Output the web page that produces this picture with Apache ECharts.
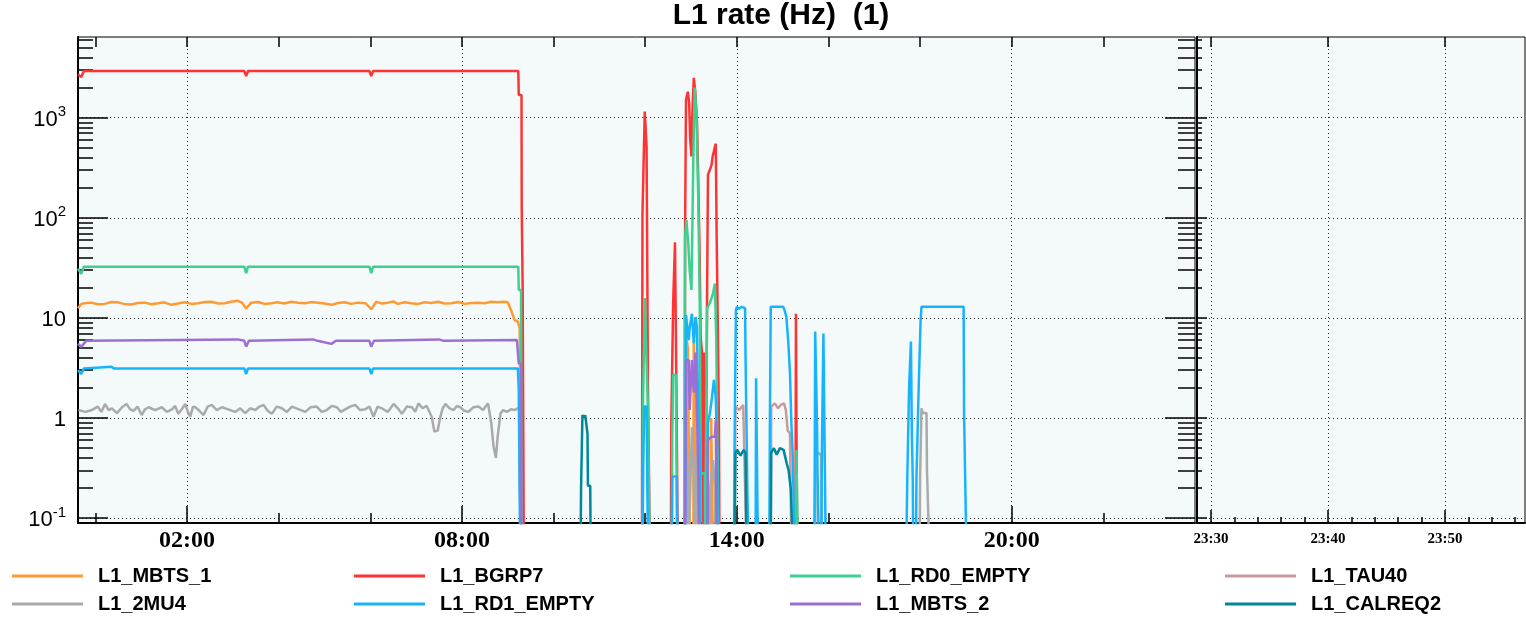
<!DOCTYPE html>
<html>
<head>
<meta charset="utf-8">
<script src="https://cdn.jsdelivr.net/npm/echarts@6/dist/echarts.min.js"></script>
<style>
  html, body { margin: 0; padding: 0; background: #fff; }
  #chart { width: 1526px; height: 617px; }
</style>
</head>
<body>
<div id="chart"></div>
<script>
// time in hours (main panel), rate in Hz; 0.05 = off scale (rate dropped to zero)
var mbts1 = [[-0.38,12.5],[-0.31,13.8],[-0.2,14.1],[-0.09,14.2],[0.05,13.7],[0.2,13.8],[0.35,14.4],[0.49,14.3],[0.62,13.8],[0.78,13.6],[0.92,14.1],[1.08,14.2],[1.22,13.7],[1.37,14.0],[1.5,14.3],[1.66,13.5],[1.8,13.9],[1.95,14.3],[2.1,13.8],[2.24,14.0],[2.4,14.4],[2.53,14.5],[2.68,13.9],[2.82,14.0],[2.96,14.5],[3.11,14.8],[3.2,14.2],[3.29,12.4],[3.4,14.2],[3.55,14.4],[3.69,13.8],[3.84,14.0],[3.98,14.3],[4.12,13.9],[4.28,14.5],[4.42,14.2],[4.57,14.0],[4.72,14.4],[4.86,14.2],[5.0,13.9],[5.15,13.5],[5.3,14.1],[5.44,14.3],[5.58,13.8],[5.73,14.2],[5.9,14.0],[6.02,12.2],[6.13,14.5],[6.26,13.9],[6.39,14.2],[6.5,14.6],[6.6,13.8],[6.75,14.3],[6.89,14.0],[7.04,13.8],[7.19,14.3],[7.33,14.1],[7.48,14.5],[7.62,13.9],[7.77,14.0],[7.92,14.4],[8.06,13.8],[8.2,14.1],[8.35,14.2],[8.5,14.0],[8.64,14.5],[8.78,14.3],[8.93,14.5],[9.0,14.3],[9.07,12.0],[9.15,9.5],[9.22,9.2],[9.26,7.9],[9.29,7.9],[9.3,0.05],
  [12.9,0.05],[12.91,6],[12.93,5],[12.95,0.8],[12.97,0.05],[13.05,0.05],[13.06,8],[13.09,8],[13.1,0.5],[13.11,0.05],[13.43,0.05],[13.44,1.0],[13.47,1.0],[13.48,0.05]];

var bgrp7 = [[-0.38,2700],[-0.31,2550],[-0.25,2930],[2.69,2930],[2.7,2800],[2.71,2930],[3.25,2930],[3.29,2600],[3.33,2930],[5.12,2930],[5.13,2800],[5.14,2930],[5.98,2930],[6.02,2600],[6.06,2930],[9.23,2930],[9.24,1690],[9.3,1690],[9.305,125],[9.32,125],[9.325,20],[9.34,20],[9.35,0.05],
  [11.93,0.05],[11.94,107],[11.98,107],[11.99,1150],[12.02,1150],[12.03,510],[12.05,510],[12.06,2.05],[12.09,2.05],[12.1,0.05],
  [12.56,0.05],[12.57,0.89],[12.6,0.89],[12.61,14],[12.64,14],[12.65,57],[12.67,57],[12.68,2.2],[12.7,2.2],[12.71,0.05],
  [12.86,0.05],[12.87,70],[12.89,1500],[12.93,1820],[12.96,1400],[12.98,630],[13.01,410],[13.03,1130],[13.06,2500],[13.09,1900],[13.13,900],[13.15,350],[13.19,38],[13.21,6.4],[13.24,4.5],[13.26,0.05],
  [13.27,0.05],[13.28,4.5],[13.31,4.5],[13.32,0.05],
  [13.34,0.05],[13.35,15],[13.37,270],[13.41,300],[13.45,340],[13.47,405],[13.52,510],[13.54,550],[13.56,63],[13.59,5.1],[13.61,0.81],[13.62,0.05],
  [15.28,0.05],[15.29,11],[15.3,1.0],[15.31,0.2],[15.32,0.05]];

var rd0Empty = [[-0.38,31],[-0.31,27.5],[-0.25,32.5],[3.25,32.5],[3.29,28],[3.33,32.5],[5.98,32.5],[6.02,28],[6.06,32.5],[9.23,32.5],[9.24,19],[9.29,19],[9.3,0.05],
  [11.94,0.05],[11.95,1.2],[11.99,15.8],[12.03,15.8],[12.06,1.2],[12.09,1.2],[12.1,0.05],
  [12.58,0.05],[12.59,0.6],[12.61,2.7],[12.67,2.7],[12.68,0.6],[12.7,0.05],
  [12.86,0.05],[12.87,65],[12.9,95],[12.94,55],[12.97,30],[13.01,19],[13.05,380],[13.08,2000],[13.12,1100],[13.16,140],[13.19,15],[13.21,0.28],[13.3,0.28],[13.31,0.05],
  [13.34,0.05],[13.35,12.5],[13.41,14],[13.48,17.6],[13.52,22],[13.55,6.4],[13.58,0.38],[13.6,0.05],
  [15.29,0.05],[15.3,0.48],[15.32,0.48],[15.33,0.05]];

var tau40 = [[13.95,0.05],[13.97,1.3],[14.05,1.2],[14.14,1.35],[14.18,1.3],[14.21,0.05],
  [14.74,0.05],[14.75,1.3],[14.83,1.4],[14.9,1.25],[14.96,1.35],[15.03,1.4],[15.07,1.2],[15.11,0.75],[15.16,0.7],[15.19,0.05]];

var mu4 = [[-0.37,1.2],[-0.22,1.15],[-0.08,1.2],[0.05,1.3],[0.13,1.15],[0.21,1.38],[0.29,1.2],[0.36,1.25],[0.47,1.12],[0.58,1.28],[0.68,1.38],[0.76,1.22],[0.83,1.18],[0.92,1.3],[1.01,1.07],[1.08,1.22],[1.16,1.28],[1.3,1.2],[1.45,1.28],[1.56,1.15],[1.67,1.22],[1.74,1.32],[1.81,1.1],[1.9,1.25],[1.96,1.38],[2.02,1.15],[2.07,1.03],[2.13,1.3],[2.18,1.28],[2.27,1.18],[2.36,1.07],[2.45,1.3],[2.54,1.35],[2.65,1.2],[2.76,1.28],[2.9,1.22],[3.05,1.15],[3.16,1.25],[3.27,1.12],[3.38,1.25],[3.49,1.2],[3.58,1.3],[3.67,1.35],[3.76,1.18],[3.85,1.1],[3.96,1.3],[4.07,1.25],[4.18,1.15],[4.29,1.3],[4.44,1.22],[4.58,1.15],[4.7,1.28],[4.83,1.3],[4.94,1.15],[5.05,1.2],[5.16,1.32],[5.27,1.28],[5.36,1.15],[5.45,1.22],[5.56,1.3],[5.67,1.35],[5.78,1.2],[5.89,1.22],[5.98,1.3],[6.07,1.03],[6.16,1.3],[6.25,1.25],[6.38,1.15],[6.51,1.38],[6.6,1.25],[6.69,1.1],[6.8,1.3],[6.91,1.28],[6.98,1.15],[7.05,1.4],[7.14,1.25],[7.23,1.32],[7.34,1.03],[7.4,0.73],[7.47,0.75],[7.53,1.03],[7.58,1.25],[7.64,1.38],[7.73,1.25],[7.82,1.2],[7.89,1.32],[7.96,1.28],[8.05,1.18],[8.14,1.15],[8.25,1.28],[8.36,1.3],[8.46,1.2],[8.57,1.4],[8.64,0.89],[8.69,0.52],[8.74,0.4],[8.78,0.65],[8.84,1.1],[8.9,1.2],[8.98,1.15],[9.07,1.22],[9.16,1.2],[9.25,1.28],[9.26,0.22],[9.29,0.22],[9.3,0.05],
  [12.88,0.05],[12.91,0.51],[12.94,0.2],[12.95,0.05],[12.99,0.05],[13.02,0.81],[13.06,0.3],[13.08,0.05],[13.12,0.6],[13.16,0.05],
  [13.4,0.05],[13.41,0.18],[13.48,0.38],[13.52,0.2],[13.54,0.05],
  [15.71,0.05],[15.72,0.42],[15.78,0.45],[15.84,0.42],[15.86,0.05],
  [17.99,0.05],[18.0,0.25],[18.02,0.25],[18.03,1.25],[18.06,1.12],[18.14,1.12],[18.15,0.3],[18.18,0.3],[18.2,0.05]];

var rd1Empty = [[-0.38,3.0],[-0.31,2.75],[-0.25,3.13],[0.35,3.25],[0.4,3.13],[3.25,3.13],[3.29,2.75],[3.33,3.13],[5.98,3.13],[6.02,2.75],[6.06,3.13],[9.22,3.13],[9.24,1.9],[9.26,1.9],[9.27,0.05],
  [11.94,0.05],[11.96,0.41],[11.98,1.3],[12.03,1.3],[12.04,0.41],[12.06,0.05],
  [12.58,0.05],[12.59,0.26],[12.69,0.26],[12.7,0.05],
  [12.87,0.05],[12.89,10.7],[12.93,10.7],[12.95,6],[12.97,8],[13.02,11],[13.06,5.6],[13.1,10.2],[13.13,8],[13.15,1.78],[13.19,0.6],[13.21,0.05],
  [13.36,0.05],[13.37,0.89],[13.41,1.1],[13.45,1.5],[13.5,2.4],[13.54,1.6],[13.57,0.5],[13.58,0.05],
  [13.94,0.05],[13.95,0.5],[13.98,12],[14.0,12.9],[14.05,12.3],[14.1,12.9],[14.18,12.5],[14.19,4.1],[14.23,0.19],[14.25,0.05],
  [14.41,0.05],[14.42,2.5],[14.45,2.5],[14.46,0.05],
  [14.71,0.05],[14.72,0.76],[14.74,12.9],[15.01,12.9],[15.04,12],[15.08,10.3],[15.12,6],[15.16,2.8],[15.19,0.89],[15.22,0.42],[15.26,0.05],
  [15.69,0.05],[15.7,0.3],[15.71,7.3],[15.73,7.3],[15.75,0.9],[15.76,0.3],[15.79,0.05],[15.84,0.05],[15.86,0.65],[15.89,7],[15.91,7],[15.94,0.05],
  [17.7,0.05],[17.72,0.25],[17.76,2.05],[17.8,5.8],[17.82,0.7],[17.84,0.24],[17.85,0.05],
  [17.91,0.05],[17.92,0.25],[17.97,2.1],[18.01,9.2],[18.03,12.9],[18.95,12.9],[18.96,1.07],[19.01,0.05]];

var mbts2 = [[-0.38,5.5],[-0.31,5.15],[-0.2,5.9],[3.11,6.1],[3.25,5.9],[3.29,5.15],[3.35,5.9],[4.75,6.1],[4.85,5.9],[5.15,5.5],[5.25,5.9],[5.98,5.9],[6.02,5.15],[6.08,5.9],[7.5,6.1],[7.6,5.9],[9.2,6.0],[9.23,5.9],[9.24,3.5],[9.29,3.5],[9.3,0.05],
  [12.87,0.05],[12.89,3.8],[12.95,3.8],[12.97,1.2],[13.02,3.8],[13.06,1.8],[13.1,4.5],[13.15,0.45],[13.18,0.05],
  [13.36,0.05],[13.37,0.6],[13.45,0.65],[13.52,0.65],[13.54,0.95],[13.56,0.05]];

var calreq2 = [[10.59,0.05],[10.6,0.2],[10.625,0.2],[10.63,1.07],[10.67,1.0],[10.69,1.07],[10.73,1.07],[10.74,0.7],[10.75,0.21],[10.8,0.21],[10.81,0.05],
  [13.95,0.05],[13.97,0.45],[14.01,0.48],[14.08,0.42],[14.15,0.48],[14.19,0.45],[14.21,0.05],
  [14.74,0.05],[14.75,0.45],[14.81,0.5],[14.87,0.43],[14.94,0.5],[15.02,0.48],[15.09,0.35],[15.13,0.3],[15.18,0.19],[15.22,0.05]];

var seriesNames = ['L1_MBTS_1', 'L1_BGRP7', 'L1_RD0_EMPTY', 'L1_TAU40', 'L1_2MU4', 'L1_RD1_EMPTY', 'L1_MBTS_2', 'L1_CALREQ2'];
var seriesData = [mbts1, bgrp7, rd0Empty, tau40, mu4, rd1Empty, mbts2, calreq2];
var seriesColors = ['#ff9a33', '#ff3333', '#3dd08f', '#c99a9a', '#aaaaaa', '#17b4fb', '#9c6fd5', '#00879a'];

// axes
var yMin = 0.0893, yMax = 6400;
var yMajor = [0.1, 1, 10, 100, 1000];
var yMinor = [];
yMajor.forEach(function(d) {
  for (var k = 2; k <= 9; k++) {
    if (k * d <= yMax) yMinor.push(+(k * d).toPrecision(2));
  }
});
var hourMin = -0.38, hourMax = 24;
var hourLabels = [2, 8, 14, 20];
var hourTicks = [0, 2, 4, 6, 8, 10, 12, 14, 16, 18, 20, 22];
var minMin = 28.8, minMax = 56.84;   // right panel, minutes after 23:00
var minLabels = [30, 40, 50];
var minTicks = [32, 34, 36, 38, 42, 44, 46, 48, 52, 54, 56];

var dotted = { show: true, lineStyle: { color: '#222', width: 1, type: [1, 3] } };
function pad(n) { return (n < 10 ? '0' : '') + n; }

var dom = document.getElementById('chart');
var myChart = echarts.init(dom);

function tickAxis(base, extra) {
  var o = {
    axisLine: { show: false, onZero: false },
    axisLabel: { show: false },
    splitLine: { show: false }
  };
  for (var k in base) o[k] = base[k];
  for (var e in extra) o[e] = extra[e];
  return o;
}

var main0 = { gridIndex: 0, type: 'value', min: hourMin, max: hourMax };
var side0 = { gridIndex: 1, type: 'value', min: minMin, max: minMax };
var logAx = function(g) { return { gridIndex: g, type: 'log', min: yMin, max: yMax }; };
var tickStyle = { color: '#000', width: 1.5 };
var boldLine = { show: true, onZero: false, lineStyle: { color: '#000', width: 2 } };

var option = {
  backgroundColor: '#fff',
  animation: false,
  title: {
    text: 'L1 rate (Hz)  (1)',
    left: 781,
    textAlign: 'center',
    top: 1,
    padding: 0,
    textStyle: { fontFamily: 'Liberation Sans', fontWeight: 'bold', fontSize: 30, color: '#000' }
  },
  grid: [
    { left: 78, top: 37, width: 1117, height: 486, show: true, backgroundColor: '#f4fafa', borderColor: '#000', borderWidth: 1 },
    { left: 1197, top: 37, width: 328, height: 486, show: true, backgroundColor: '#f4fafa', borderColor: '#000', borderWidth: 1 }
  ],
  xAxis: [
    tickAxis(main0, {
      position: 'bottom',
      axisLine: boldLine,
      axisTick: { inside: true, length: 17, customValues: hourLabels, lineStyle: tickStyle },
      axisLabel: {
        customValues: hourLabels, margin: 6,
        formatter: function(v) { return pad(Math.round(v)) + ':00'; },
        fontFamily: 'Liberation Serif', fontWeight: 'bold', fontSize: 24, color: '#000'
      },
      splitLine: dotted
    }),
    tickAxis(main0, { position: 'bottom', axisTick: { inside: true, length: 10, customValues: hourTicks, lineStyle: tickStyle } }),
    tickAxis(main0, { position: 'top', axisTick: { inside: true, length: 10, customValues: hourTicks, lineStyle: tickStyle } }),
    tickAxis(side0, {
      position: 'bottom',
      axisLine: boldLine,
      axisTick: { inside: true, length: 13, customValues: minLabels, lineStyle: tickStyle },
      axisLabel: {
        customValues: minLabels, margin: 9,
        formatter: function(v) { return '23:' + Math.round(v); },
        fontFamily: 'Liberation Serif', fontWeight: 'bold', fontSize: 15, color: '#000'
      },
      splitLine: dotted
    }),
    tickAxis(side0, { position: 'bottom', axisTick: { inside: true, length: 6, customValues: minTicks, lineStyle: tickStyle } }),
    tickAxis(side0, { position: 'top', axisTick: { inside: true, length: 10, customValues: minLabels, lineStyle: tickStyle } })
  ],
  yAxis: [
    tickAxis(logAx(0), {
      position: 'left',
      axisLine: boldLine,
      axisTick: { inside: true, length: 30, customValues: yMajor, lineStyle: tickStyle },
      axisLabel: {
        customValues: yMajor, margin: 12,
        formatter: function(v) {
          var e = Math.round(Math.log(v) / Math.LN10);
          if (e === 0) return '{b|1}';
          if (e === 1) return '{b|10}';
          return '{b|10}{s|' + e + '}';
        },
        rich: {
          b: { fontFamily: 'Liberation Sans', fontSize: 22, color: '#000', lineHeight: 26, verticalAlign: 'bottom' },
          s: { fontFamily: 'Liberation Sans', fontSize: 15, color: '#000', verticalAlign: 'top', lineHeight: 26 }
        }
      },
      splitLine: dotted
    }),
    tickAxis(logAx(0), { position: 'left', axisTick: { inside: true, length: 15, customValues: yMinor, lineStyle: tickStyle } }),
    tickAxis(logAx(0), { position: 'right', axisTick: { inside: true, length: 30, customValues: yMajor, lineStyle: tickStyle } }),
    tickAxis(logAx(0), { position: 'right', axisTick: { inside: true, length: 17, customValues: yMinor, lineStyle: tickStyle } }),
    tickAxis(logAx(1), {
      position: 'left',
      axisLine: boldLine,
      axisTick: { inside: true, length: 10, customValues: yMajor, lineStyle: tickStyle },
      splitLine: dotted
    }),
    tickAxis(logAx(1), { position: 'left', axisTick: { inside: true, length: 5, customValues: yMinor, lineStyle: tickStyle } })
  ],
  legend: [],
  series: []
};

var legendCols = [[0, 4], [1, 5], [2, 6], [3, 7]];
var legendLeft = [12, 354, 790, 1225];
legendCols.forEach(function(col, i) {
  option.legend.push({
    left: legendLeft[i],
    top: 566,
    orient: 'vertical',
    padding: 0,
    itemGap: 8,
    icon: 'rect',
    itemWidth: 71,
    itemHeight: 3,
    selectedMode: false,
    data: [seriesNames[col[0]], seriesNames[col[1]]],
    textStyle: { fontFamily: 'Liberation Sans', fontWeight: 'bold', fontSize: 20, color: '#000', lineHeight: 20, padding: [0, 0, 0, 10] }
  });
});

seriesNames.forEach(function(name, i) {
  option.series.push({
    name: name,
    type: 'line',
    xAxisIndex: 0,
    yAxisIndex: 0,
    data: seriesData[i],
    showSymbol: false,
    symbol: 'none',
    color: seriesColors[i],
    lineStyle: { color: seriesColors[i], width: 2.5 },
    clip: true
  });
});

if (option && typeof option === 'object') {
  myChart.setOption(option, true);
}
</script>
</body>
</html>
